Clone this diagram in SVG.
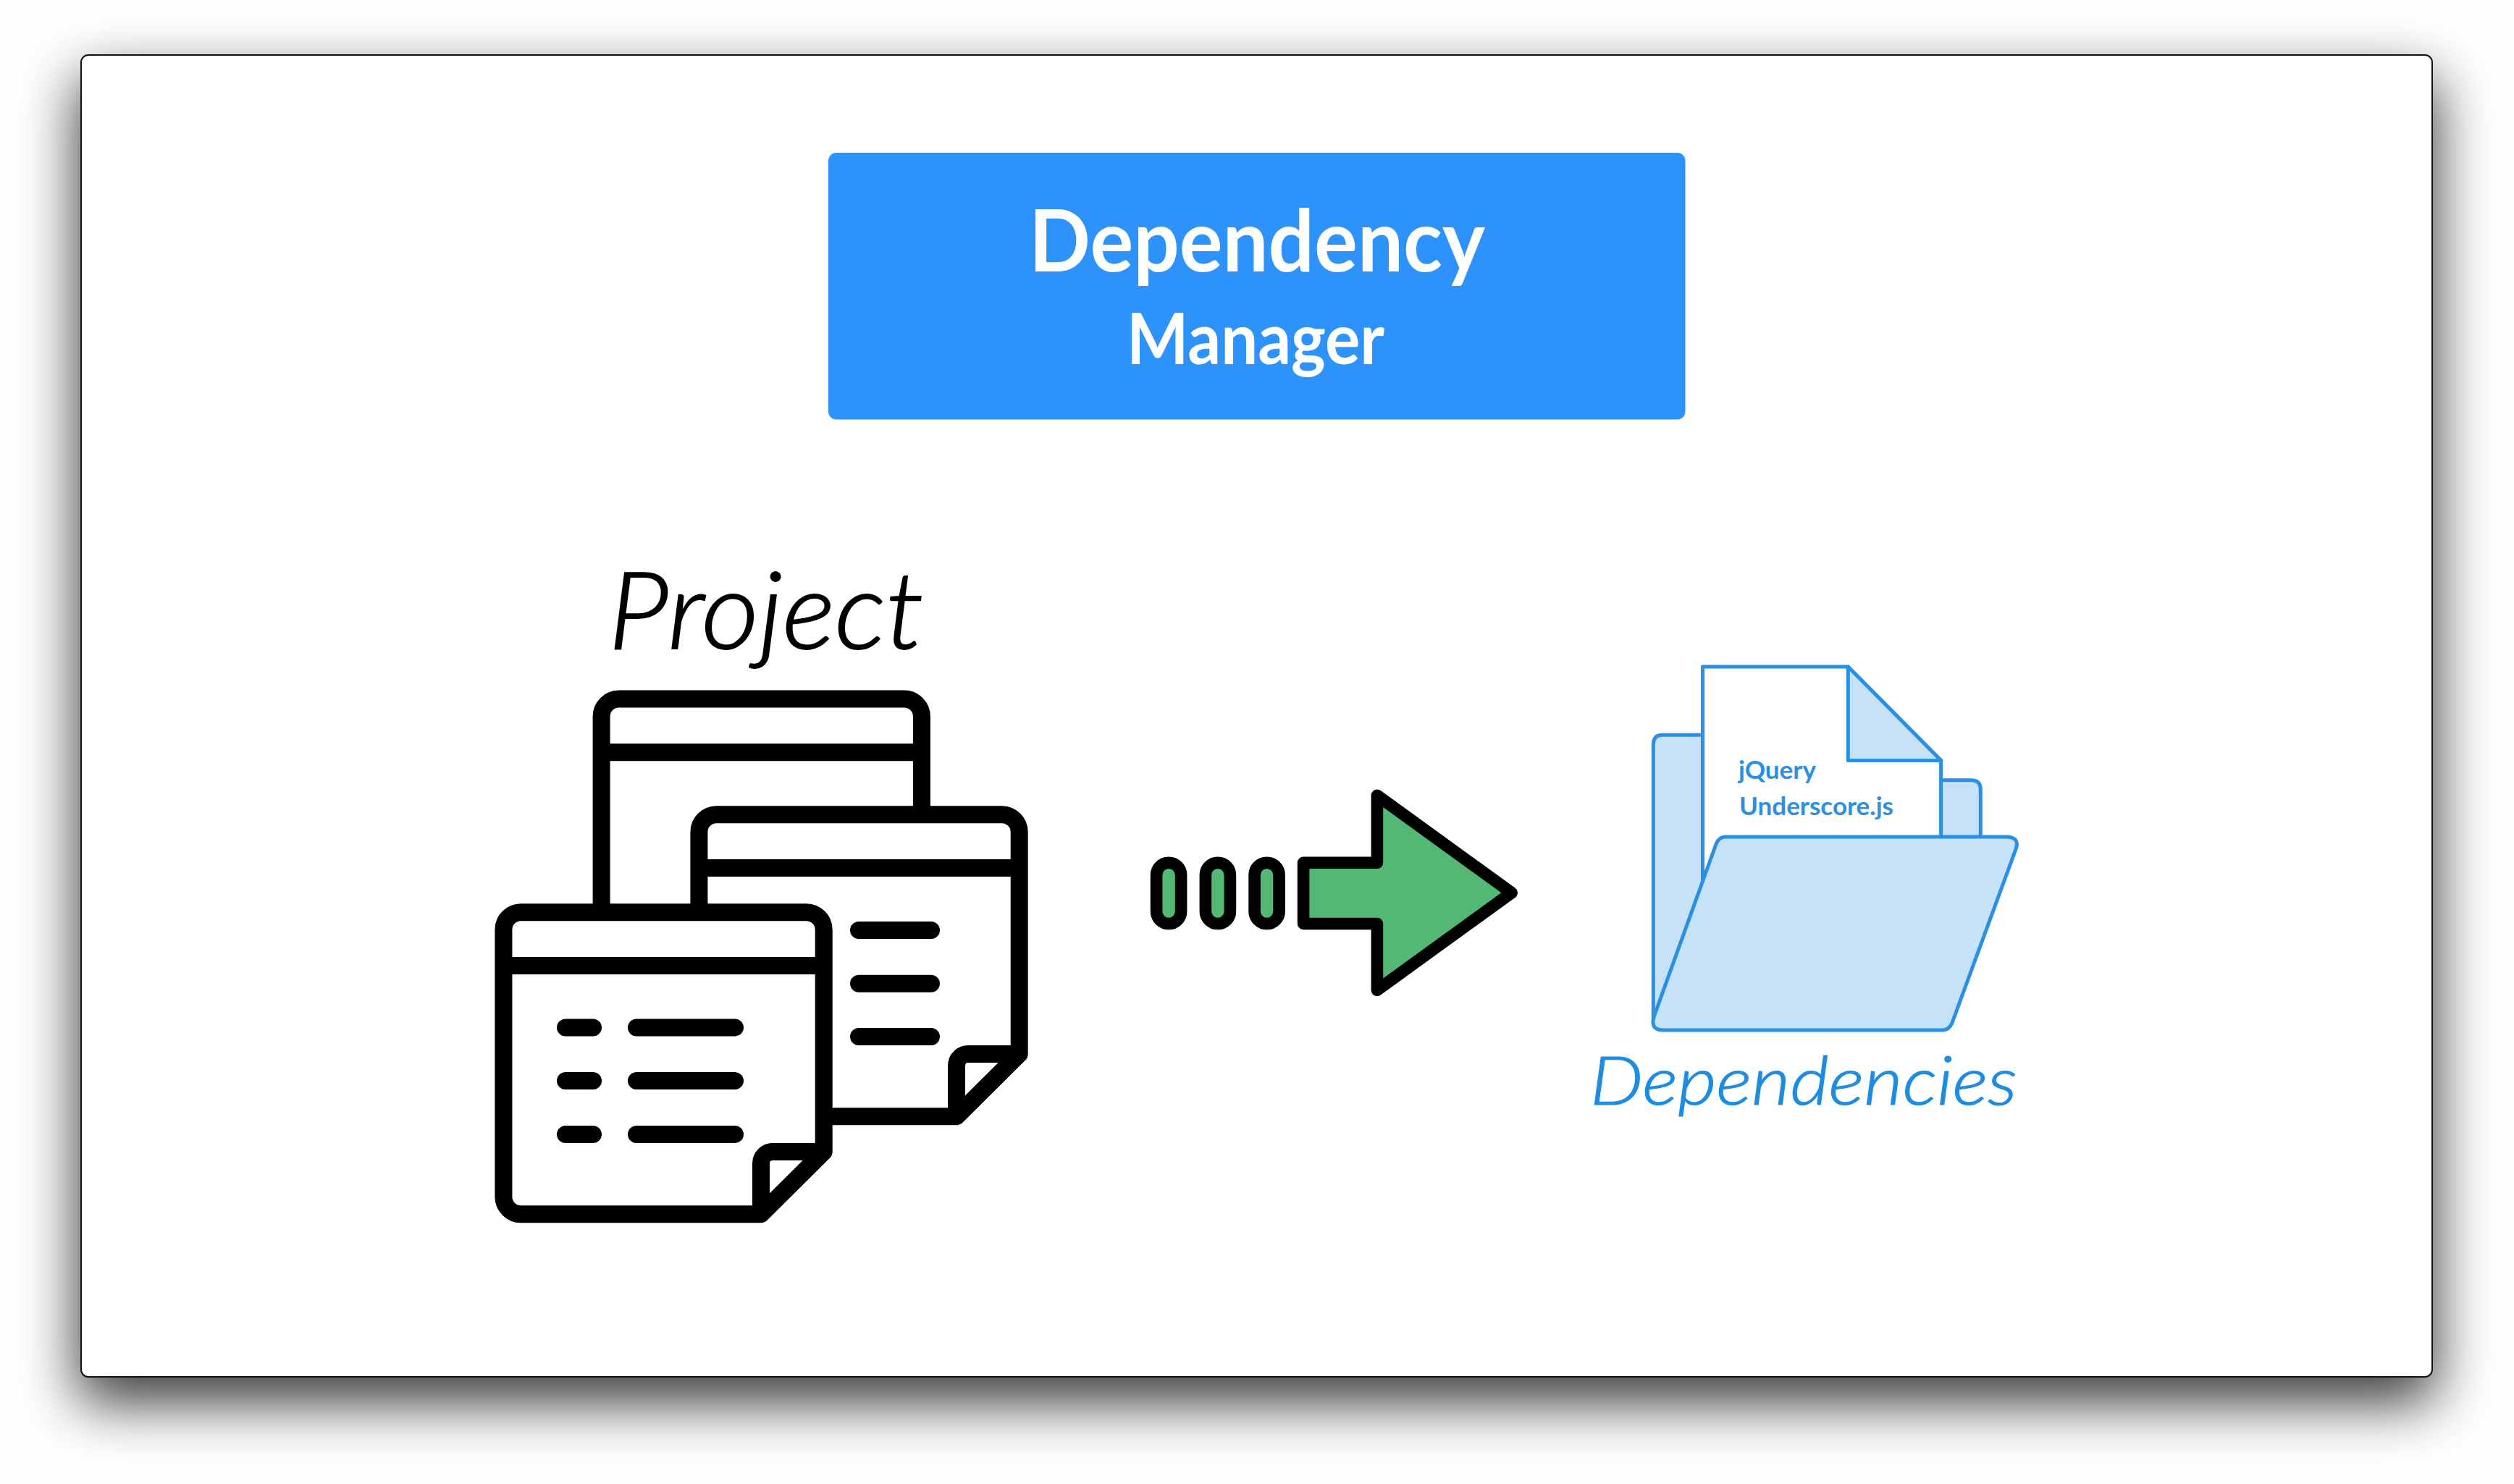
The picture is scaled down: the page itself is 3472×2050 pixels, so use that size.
<svg xmlns="http://www.w3.org/2000/svg" width="3472" height="2050" viewBox="0 0 3472 2050">
<style>
.t{font-family:"Lato","Noto Sans",sans-serif}
.doc{fill:#fff;stroke:#000;stroke-width:24;stroke-linejoin:round}
.ln{fill:none;stroke:#000;stroke-width:24;stroke-linecap:round}
.arr{fill:#52b873;stroke:#000;stroke-width:16.6;stroke-linejoin:round}
.fl{fill:#c6e2f9;stroke:#2b8fe3;stroke-width:5;stroke-linejoin:round}
.pa{fill:#fff;stroke:#2b8fe3;stroke-width:5;stroke-linejoin:round}
</style>
<defs>
<filter id="sh" x="-10%" y="-15%" width="120%" height="130%" color-interpolation-filters="sRGB"><feGaussianBlur stdDeviation="40"/></filter>
<g id="docshape">
<path d="M24,0H418.300A24,24 0 0 1 442.300,24V330.700L355.600,416.900H24A24,24 0 0 1 0,392.900V24A24,24 0 0 1 24,0Z"/>
<path class="ln" style="stroke-linecap:butt" d="M0,73.700H442.300"/>
<path class="ln" style="stroke-linecap:butt;stroke-linejoin:round" d="M355.600,416.900V346.700A16,16 0 0 1 371.600,330.700H442.300"/>
</g>
</defs>
<rect width="3472" height="2050" fill="#fefefe"/>
<rect x="108" y="108" width="3255" height="1829" rx="14" fill="#000" opacity="0.78" filter="url(#sh)"/>
<rect id="window" x="112" y="76" width="3247" height="1826" rx="10" fill="#fff" stroke="#111" stroke-width="2"/>
<g id="title">
<rect x="1144" y="211" width="1183.500" height="368.500" rx="11" fill="#2d92fa"/>
<text class="t" x="1421" y="375" font-size="118" font-weight="700" fill="#fff" textLength="630" lengthAdjust="spacingAndGlyphs">Dependency</text>
<text class="t" x="1556" y="503" font-size="97" font-weight="700" fill="#fff" textLength="356" lengthAdjust="spacingAndGlyphs">Manager</text>
</g>
<g id="project">
<text class="t" x="840" y="896" font-size="148" font-weight="300" font-style="italic" fill="#000" stroke="#000" stroke-width="1.800" textLength="436" lengthAdjust="spacingAndGlyphs">Project</text>
<use href="#docshape" class="doc" x="830.600" y="965.600"/>
<use href="#docshape" class="doc" x="965.400" y="1125.300"/>
<path class="ln" d="M1186,1285H1286M1186,1358.800H1286M1186,1431.900H1286"/>
<use href="#docshape" class="doc" x="695.400" y="1260.300"/>
<path class="ln" d="M781,1419.400H819M879,1419.400H1015M781,1493.100H819M879,1493.100H1015M781,1566.900H819M879,1566.900H1015"/>
</g>
<g id="connectors">
<rect class="arr" x="1597.100" y="1191.700" width="34" height="84.300" rx="17"/>
<rect class="arr" x="1664.900" y="1191.700" width="34" height="84.300" rx="17"/>
<rect class="arr" x="1732.600" y="1191.700" width="34" height="84.300" rx="17"/>
<path class="arr" d="M1800.100,1191.800H1901.900V1098.800L2087.600,1233.300L1901.900,1367.800V1276H1800.100Z"/>
</g>
<g id="dependencies">
<path class="fl" d="M2283.300,1407V1029Q2283.300,1015.300 2296,1015.300H2400V1077.800H2722.700Q2735.300,1077.800 2735.300,1091V1160H2380L2290,1415Z"/>
<path class="pa" d="M2351.500,921H2552.300L2680.600,1050.500V1170H2400L2351.500,1215Z"/>
<path class="fl" d="M2552.300,921V1050.500H2680.600Z"/>
<text class="t" x="2401" y="1076" font-size="35" font-weight="700" fill="#2b8fe3" textLength="107" lengthAdjust="spacingAndGlyphs">jQuery</text>
<text class="t" x="2402" y="1126" font-size="35" font-weight="700" fill="#2b8fe3" textLength="213" lengthAdjust="spacingAndGlyphs">Underscore.js</text>
<path class="fl" d="M2383,1156H2770Q2790,1156 2784,1173L2696,1413Q2692,1423 2682,1423H2297Q2279,1423 2284,1405L2370,1166Q2374,1156 2383,1156Z"/>
<text class="t" x="2196" y="1526" font-size="93" font-weight="300" font-style="italic" fill="#1e8ce0" stroke="#1e8ce0" stroke-width="1.200" textLength="590" lengthAdjust="spacingAndGlyphs">Dependencies</text>
</g>
</svg>
